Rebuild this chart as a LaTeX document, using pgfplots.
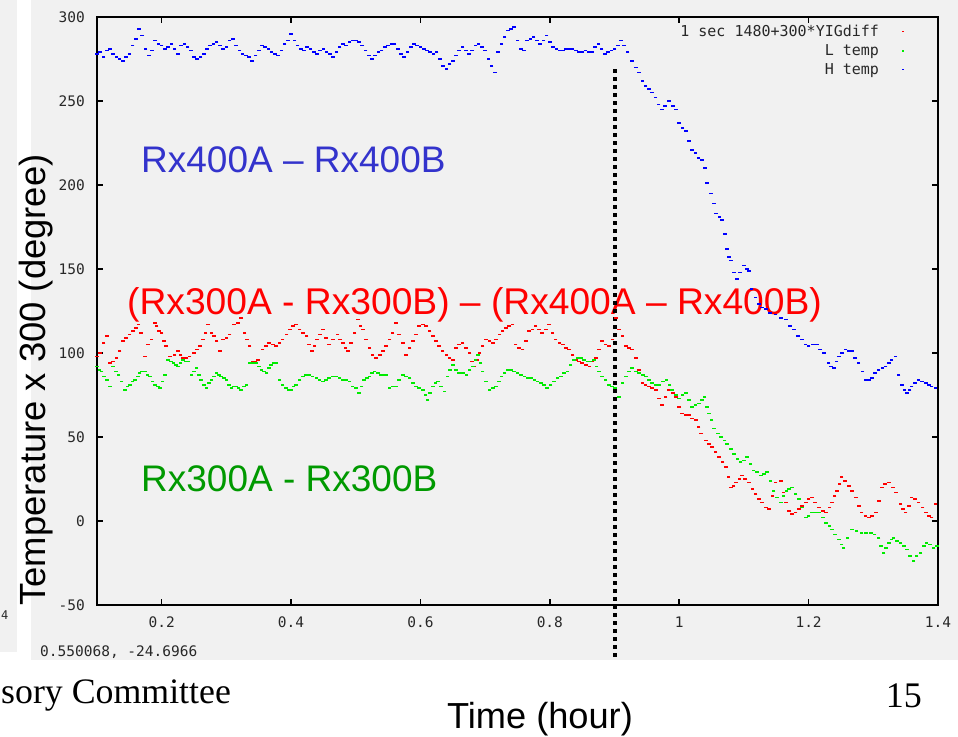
\documentclass[border=0pt]{standalone}
\usepackage{pgfplots}
\usepackage{pgfplotstable}
\pgfplotsset{compat=1.18}
\usepackage{fontspec}
\setmainfont{Liberation Sans}
\newfontfamily\gp{DejaVu Sans Mono}
\newfontfamily\tnr{Liberation Serif}
\definecolor{bg}{RGB}{241,241,241}
\definecolor{txtblue}{RGB}{51,51,204}
\definecolor{txtgreen}{RGB}{0,153,0}
\definecolor{dred}{RGB}{255,0,0}
\definecolor{dgreen}{RGB}{0,235,0}
\definecolor{dblue}{RGB}{0,0,255}
\definecolor{gptext}{RGB}{40,40,40}

\pgfplotsset{gpleg/.style={legend image code/.code={%
  \path[draw=none, fill=none] (0pt,-2pt) rectangle (24pt,2pt);
  \draw[mark repeat=2, mark phase=2, ##1, mark size=0.9pt] plot coordinates {(0pt,0pt) (22pt,0pt) (23pt,0pt)};}}}

\pgfplotstableread{
x y
0.100 278
0.105 279
0.110 276
0.115 280
0.120 281
0.125 278
0.130 276
0.135 275
0.140 274
0.145 276
0.150 278
0.155 283
0.160 287
0.165 293
0.170 289
0.175 281
0.180 277
0.185 280
0.190 286
0.195 284
0.200 283
0.205 281
0.210 282
0.215 284
0.220 281
0.225 278
0.230 283
0.235 284
0.240 282
0.245 280
0.250 276
0.255 275
0.260 276
0.265 278
0.270 281
0.275 283
0.280 284
0.285 285
0.290 283
0.295 281
0.300 282
0.305 286
0.310 287
0.315 283
0.320 280
0.325 278
0.330 277
0.335 276
0.340 274
0.345 277
0.350 280
0.355 283
0.360 282
0.365 281
0.370 279
0.375 278
0.380 277
0.385 280
0.390 284
0.395 286
0.400 290
0.405 286
0.410 283
0.415 281
0.420 280
0.425 282
0.430 281
0.435 279
0.440 278
0.445 280
0.450 281
0.455 279
0.460 278
0.465 276
0.470 279
0.475 282
0.480 284
0.485 283
0.490 285
0.495 286
0.500 286
0.505 285
0.510 283
0.515 280
0.520 277
0.525 275
0.530 277
0.535 279
0.540 280
0.545 282
0.550 283
0.555 284
0.560 284
0.565 281
0.570 278
0.575 276
0.580 279
0.585 282
0.590 284
0.595 283
0.600 282
0.605 281
0.610 280
0.615 279
0.620 278
0.625 279
0.630 275
0.635 271
0.640 269
0.645 272
0.650 274
0.655 277
0.660 280
0.665 282
0.670 280
0.675 278
0.680 280
0.685 283
0.690 284
0.695 282
0.700 280
0.705 275
0.710 271
0.715 267
0.720 279
0.725 284
0.730 288
0.735 292
0.740 293
0.745 294
0.750 286
0.755 281
0.760 280
0.765 286
0.770 287
0.775 288
0.780 286
0.785 284
0.790 286
0.795 289
0.800 285
0.805 282
0.810 281
0.815 280
0.820 280
0.825 281
0.830 281
0.835 281
0.840 280
0.845 279
0.850 279
0.855 280
0.860 279
0.865 279
0.870 282
0.875 284
0.880 281
0.885 278
0.890 279
0.895 280
0.900 281
0.905 283
0.910 286
0.915 283
0.920 279
0.927 274
0.933 270
0.938 267
0.943 262
0.948 259
0.953 257
0.958 255
0.963 252
0.968 248
0.973 245
0.978 247
0.984 250
0.990 247
0.995 245
1.000 237
1.005 234
1.010 232
1.015 226
1.020 221
1.025 219
1.030 216
1.035 215
1.040 210
1.043 201
1.049 195
1.054 189
1.057 183
1.062 181
1.066 179
1.071 171
1.074 162
1.077 157
1.080 155
1.085 148
1.089 144
1.094 148
1.100 152
1.105 150
1.108 149
1.112 138
1.118 133
1.123 129
1.128 127
1.134 126
1.140 124
1.149 123
1.157 121
1.165 120
1.171 116
1.177 114
1.184 110
1.190 108
1.195 105
1.200 104
1.207 105
1.213 105
1.218 102
1.224 100
1.231 94
1.235 92
1.239 91
1.243 95
1.247 98
1.252 100
1.257 102
1.262 101
1.267 101
1.272 97
1.277 94
1.283 89
1.288 84
1.293 84
1.298 85
1.303 88
1.308 90
1.314 91
1.319 92
1.324 94
1.328 96
1.334 98
1.339 87
1.344 81
1.348 78
1.352 76
1.356 78
1.359 80
1.364 82
1.370 84
1.375 83
1.381 82
1.386 81
1.390 80
1.396 79
}\htemp

\pgfplotstableread{
x y
0.100 98
0.105 100
0.110 106
0.115 110
0.120 94
0.125 95
0.130 97
0.135 101
0.140 107
0.145 109
0.150 111
0.156 113
0.160 115
0.164 117
0.168 112
0.174 98
0.179 105
0.184 108
0.190 118
0.192 116
0.196 113
0.200 112
0.204 107
0.207 104
0.213 98
0.220 99
0.225 101
0.229 99
0.233 97
0.238 97
0.243 98
0.250 100
0.255 102
0.259 104
0.264 108
0.268 112
0.272 117
0.277 112
0.281 110
0.285 107
0.290 101
0.295 108
0.300 109
0.305 111
0.312 117
0.318 118
0.323 121
0.328 112
0.332 108
0.336 104
0.341 95
0.345 95
0.349 96
0.356 102
0.361 104
0.366 106
0.372 105
0.377 104
0.382 106
0.387 108
0.393 111
0.398 114
0.403 116
0.408 117
0.413 114
0.418 112
0.424 110
0.428 105
0.432 101
0.436 104
0.440 108
0.445 111
0.449 114
0.454 109
0.459 105
0.465 108
0.472 111
0.476 108
0.480 106
0.484 103
0.488 101
0.493 106
0.498 112
0.503 120
0.507 116
0.511 114
0.516 108
0.521 103
0.526 99
0.531 97
0.537 99
0.542 101
0.547 104
0.552 108
0.557 112
0.562 118
0.567 111
0.573 106
0.578 99
0.583 103
0.588 107
0.593 111
0.598 116
0.604 117
0.609 116
0.614 113
0.619 110
0.624 107
0.629 104
0.634 101
0.640 99
0.645 97
0.650 96
0.655 103
0.660 105
0.665 106
0.670 103
0.676 100
0.680 95
0.683 92
0.687 96
0.691 100
0.696 104
0.701 108
0.707 107
0.712 106
0.717 108
0.722 111
0.727 113
0.732 115
0.737 116
0.742 117
0.747 105
0.752 103
0.758 102
0.763 107
0.768 113
0.773 114
0.778 116
0.783 114
0.788 112
0.794 114
0.799 117
0.804 112
0.809 108
0.815 106
0.820 105
0.825 103
0.830 102
0.835 99
0.840 96
0.845 95
0.850 94
0.856 93
0.861 92
0.866 95
0.871 97
0.876 102
0.881 107
0.886 105
0.891 104
0.897 108
0.902 121
0.907 114
0.912 110
0.918 104
0.922 103
0.927 102
0.933 97
0.938 90
0.943 82
0.948 81
0.953 80
0.958 79
0.964 78
0.969 73
0.973 69
0.979 74
0.984 78
0.990 76
0.995 74
1.000 68
1.004 64
1.010 63
1.015 63
1.020 61
1.026 60
1.030 56
1.034 52
1.041 48
1.046 46
1.051 44
1.056 41
1.061 38
1.067 35
1.072 32
1.076 26
1.080 20
1.084 21
1.088 23
1.093 25
1.097 27
1.102 25
1.108 23
1.113 19
1.118 16
1.123 13
1.128 11
1.134 8
1.139 7
1.144 15
1.149 23
1.157 24
1.161 17
1.165 11
1.170 6
1.174 4
1.180 5
1.185 7
1.190 9
1.196 11
1.200 13
1.205 14
1.210 11
1.216 8
1.222 6
1.227 5
1.232 8
1.236 11
1.240 15
1.244 18
1.248 22
1.251 26
1.256 24
1.262 21
1.267 18
1.273 14
1.278 9
1.282 5
1.288 3
1.293 2
1.298 3
1.304 5
1.309 12
1.313 20
1.318 22
1.324 23
1.330 20
1.335 17
1.342 10
1.346 7
1.350 5
1.355 9
1.359 14
1.364 13
1.370 11
1.376 8
1.381 5
1.386 3
1.390 2
1.396 10
}\yigdiff

\pgfplotstableread{
x y
0.100 92
0.104 90
0.107 89
0.111 86
0.115 84
0.120 80
0.125 92
0.129 89
0.133 87
0.138 83
0.143 78
0.147 80
0.151 81
0.155 83
0.159 84
0.163 86
0.166 88
0.170 89
0.174 89
0.178 87
0.182 86
0.186 83
0.190 81
0.194 80
0.197 79
0.201 83
0.205 87
0.210 96
0.214 95
0.218 94
0.222 93
0.225 92
0.229 94
0.233 96
0.237 95
0.241 95
0.246 87
0.250 89
0.254 91
0.258 87
0.261 84
0.265 81
0.269 79
0.273 82
0.277 84
0.281 86
0.285 88
0.289 87
0.292 86
0.296 85
0.300 84
0.304 81
0.308 79
0.311 80
0.315 80
0.319 79
0.323 78
0.327 80
0.331 81
0.336 94
0.341 94
0.346 94
0.350 92
0.354 90
0.358 89
0.362 88
0.366 91
0.369 93
0.373 94
0.377 94
0.382 84
0.387 81
0.392 79
0.396 78
0.400 78
0.404 80
0.408 81
0.413 84
0.418 86
0.423 87
0.428 87
0.433 86
0.439 85
0.444 84
0.449 83
0.454 84
0.459 85
0.464 86
0.469 86
0.475 85
0.480 84
0.485 84
0.490 83
0.495 80
0.500 79
0.505 76
0.509 80
0.513 84
0.517 85
0.521 86
0.525 88
0.529 89
0.534 88
0.539 87
0.543 87
0.547 87
0.552 79
0.557 80
0.562 80
0.567 84
0.573 87
0.578 86
0.583 85
0.588 82
0.593 80
0.598 79
0.604 78
0.608 75
0.611 72
0.615 76
0.619 80
0.623 82
0.627 83
0.632 80
0.637 77
0.642 86
0.646 90
0.650 93
0.655 90
0.660 88
0.666 88
0.671 87
0.676 90
0.681 92
0.685 96
0.689 99
0.693 94
0.696 89
0.701 83
0.707 78
0.712 79
0.717 80
0.721 83
0.725 86
0.730 88
0.735 90
0.740 90
0.745 89
0.750 88
0.755 87
0.761 86
0.766 85
0.771 85
0.776 84
0.781 83
0.786 82
0.791 81
0.796 79
0.801 81
0.806 83
0.812 85
0.817 86
0.822 88
0.827 89
0.832 93
0.837 96
0.843 97
0.848 97
0.853 96
0.858 95
0.863 95
0.868 96
0.872 92
0.876 89
0.881 86
0.886 84
0.891 81
0.896 80
0.901 79
0.907 74
0.912 82
0.918 86
0.922 89
0.927 91
0.933 89
0.938 88
0.944 87
0.949 86
0.953 84
0.958 82
0.964 81
0.969 81
0.975 83
0.980 84
0.985 81
0.989 78
0.995 75
1.000 73
1.005 75
1.010 76
1.015 72
1.020 68
1.025 69
1.031 70
1.035 72
1.039 74
1.043 68
1.046 64
1.050 60
1.054 55
1.060 52
1.065 50
1.070 48
1.074 46
1.080 43
1.085 40
1.090 37
1.095 35
1.100 36
1.105 38
1.110 34
1.115 30
1.120 29
1.126 27
1.131 28
1.136 29
1.141 24
1.146 18
1.151 14
1.157 11
1.161 15
1.166 18
1.170 19
1.174 20
1.180 16
1.185 13
1.190 8
1.196 2
1.200 3
1.205 5
1.210 5
1.216 5
1.222 2
1.227 -1
1.232 -3
1.236 -5
1.241 -8
1.247 -11
1.251 -14
1.254 -16
1.260 -10
1.267 -5
1.274 -6
1.282 -7
1.289 -7
1.296 -7
1.302 -8
1.308 -10
1.312 -15
1.316 -19
1.320 -16
1.324 -13
1.328 -11
1.331 -10
1.337 -12
1.342 -13
1.347 -15
1.352 -17
1.357 -21
1.362 -24
1.367 -21
1.373 -19
1.378 -15
1.382 -13
1.388 -14
1.393 -16
1.398 -15
}\ltemp

\begin{document}
\begin{tikzpicture}
\useasboundingbox (0pt,0pt) rectangle (958pt,736pt);
\fill[white] (0pt,0pt) rectangle (958pt,736pt);
\fill[bg] (31pt,76pt) rectangle (958pt,736pt);
\fill[bg] (0pt,84pt) rectangle (17pt,736pt);
\node[anchor=base west, inner sep=0pt, text=gptext, font=\gp\fontsize{12}{12}\selectfont] at (1pt,116pt) {4};
% annotations
\node[anchor=base west, inner sep=0pt, text=txtblue, font=\fontsize{37}{40}\selectfont] at (141pt,563pt) {Rx400A – Rx400B};
\node[anchor=base west, inner sep=0pt, text=dred, font=\fontsize{37.2}{40}\selectfont] at (127pt,421pt) {(Rx300A - Rx300B) – (Rx400A – Rx400B)};
\node[anchor=base west, inner sep=0pt, text=txtgreen, font=\fontsize{37}{40}\selectfont] at (141pt,244pt) {Rx300A - Rx300B};
\node[anchor=base west, inner sep=0pt, text=gptext, font=\gp\fontsize{14.5}{15}\selectfont] at (40pt,79pt) {0.550068, -24.6966};
\begin{axis}[
  at={(97pt,131pt)}, anchor=south west,
  scale only axis, width=841pt, height=588pt,
  xmin=0.1, xmax=1.4, ymin=-50, ymax=300,
  axis line style={line width=2.2pt, black},
  tick align=inside, major tick length=6pt,
  every tick/.style={line width=1.6pt, black},
  xtick={0.2,0.4,0.6,0.8,1,1.2,1.4},
  xticklabels={0.2,0.4,0.6,0.8,1,1.2,1.4},
  ytick={-50,0,50,100,150,200,250,300},
  yticklabels={-50,0,50,100,150,200,250,300},
  xticklabel style={anchor=north, inner sep=0pt, yshift=-12pt, text=gptext, font=\gp\fontsize{14.5}{14.5}\selectfont},
  yticklabel style={anchor=east, inner sep=0pt, xshift=-12pt, text=gptext, font=\gp\fontsize{14.5}{14.5}\selectfont},
  clip=false,
  legend style={draw=none, fill=none, at={(0.961,0.99)}, anchor=north east,
    font=\gp\fontsize{15}{15}\selectfont, text=gptext, row sep=2.5pt, inner sep=0pt},
  legend cell align=right,
  legend plot pos=right,
]
\addplot[only marks, dred, mark=-, mark size=1.8pt, line width=1.7pt, gpleg] table {\yigdiff};
\addlegendentry{1 sec 1480+300*YIGdiff}
\addplot[only marks, dgreen, mark=-, mark size=1.8pt, line width=1.7pt, gpleg] table {\ltemp};
\addlegendentry{L temp}
\addplot[only marks, dblue, mark=-, mark size=1.8pt, line width=1.7pt, gpleg] table {\htemp};
\addlegendentry{H temp}
\draw[line width=4pt, dash pattern=on 4pt off 4pt] (axis cs:0.9,269) -- (axis cs:0.9,-83);
\end{axis}
\node[rotate=90, anchor=base, inner sep=0pt, font=\fontsize{36.4}{40}\selectfont] at (46pt,356pt) {Temperature x 300 (degree)};
\node[anchor=base, inner sep=0pt, font=\fontsize{36.2}{40}\selectfont] at (540pt,8pt) {Time (hour)};
\node[anchor=base west, inner sep=0pt, font=\tnr\fontsize{35.8}{40}\selectfont] at (1pt,33pt) {sory Committee};
\node[anchor=base east, inner sep=0pt, font=\tnr\fontsize{36}{40}\selectfont] at (922pt,29pt) {15};
\end{tikzpicture}
\end{document}
